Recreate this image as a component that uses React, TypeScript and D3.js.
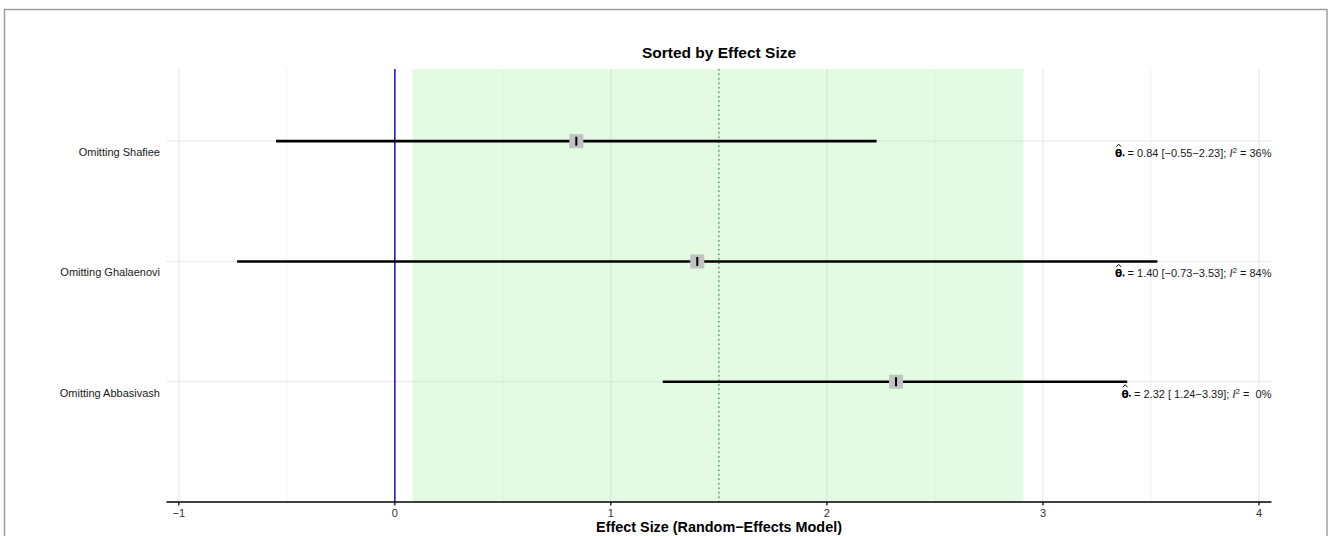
import React, { useLayoutEffect, useRef, useState } from "react";
import * as d3 from "d3";

// Leave-one-out meta-analysis results
const studies = ["Omitting Shafiee", "Omitting Ghalaenovi", "Omitting Abbasivash"];
const estimates = [0.84, 1.40, 2.32];
const lowerCI = [-0.55, -0.73, 1.24];
const upperCI = [2.23, 3.53, 3.39];
const i2Values = [36, 84, 0];

// Pooled random-effects estimate and its interval
const pooled = 1.5;
const pooledLower = 0.083;
const pooledUpper = 2.91;

const xTicks = [-1, 0, 1, 2, 3, 4];
const xMinor = [-0.5, 0.5, 1.5, 2.5, 3.5];

const W = 1328;
const H = 536;
const left = 166.5;
const right = 1271.5;
const top = 69;
const bottom = 502;

const NBSP = "\u00A0";
const fmt = d3.format(".2f");
const fmtCI = (v: number) => (v < 0 ? "\u2212" + fmt(-v) : NBSP + fmt(v));

export default function App() {
  const x = d3.scaleLinear().domain([-1.057, 4.058]).range([left, right]);
  const y = d3.scaleLinear().domain([-0.6, 3]).range([top, bottom]);
  const font = "Liberation Sans, Arial, sans-serif";

  // measured widths of the annotation texts, used to place the theta-hat symbol
  const annRefs = useRef<(SVGTextElement | null)[]>([]);
  const [annWidths, setAnnWidths] = useState<number[]>(studies.map(() => 150));
  useLayoutEffect(() => {
    const w = annRefs.current.map((el) => (el ? el.getComputedTextLength() : 150));
    setAnnWidths(w);
  }, []);

  return (
    <svg
      width={W}
      height={H}
      style={{ position: "fixed", left: 0, top: 0, background: "#fff" }}
      fontFamily={font}
    >
      <rect x={4.5} y={9.5} width={1322.5} height={600} fill="none" stroke="#9a9a9a" strokeWidth={1.4} />

      {/* grid */}
      {xMinor.map((t) => (
        <line key={"mn" + t} x1={x(t)} x2={x(t)} y1={top} y2={bottom} stroke="#f1f1f1" strokeWidth={1} />
      ))}
      {xTicks.map((t) => (
        <line key={"mj" + t} x1={x(t)} x2={x(t)} y1={top} y2={bottom} stroke="#e8e8e8" strokeWidth={1.2} />
      ))}
      {studies.map((s, i) => (
        <line key={"hg" + s} x1={left} x2={right} y1={y(i)} y2={y(i)} stroke="#ebebeb" strokeWidth={1.2} />
      ))}

      {/* pooled interval band */}
      <rect
        x={x(pooledLower)}
        y={top}
        width={x(pooledUpper) - x(pooledLower)}
        height={bottom - top}
        fill="rgb(144,238,144)"
        fillOpacity={0.25}
      />
      <line x1={x(pooled)} x2={x(pooled)} y1={top} y2={bottom} stroke="#3f9a3f" strokeWidth={1.3} strokeDasharray="1.5,3" />
      <line x1={x(0)} x2={x(0)} y1={top} y2={bottom} stroke="#1010d0" strokeWidth={1.5} />

      {/* intervals and point estimates */}
      {studies.map((s, i) => (
        <g key={"pt" + s}>
          <line x1={x(lowerCI[i])} x2={x(upperCI[i])} y1={y(i)} y2={y(i)} stroke="#000" strokeWidth={2.6} />
          <rect x={x(estimates[i]) - 7} y={y(i) - 7} width={14} height={14} fill="#c2c2c2" />
          <line x1={x(estimates[i])} x2={x(estimates[i])} y1={y(i) - 4.5} y2={y(i) + 4.5} stroke="#000" strokeWidth={2} />
        </g>
      ))}

      {/* study labels */}
      {studies.map((s, i) => (
        <text key={"lb" + s} x={160} y={y(i) + 15} textAnchor="end" fontSize={11} fill="#1a1a1a">
          {s}
        </text>
      ))}

      {/* estimate annotations */}
      {studies.map((s, i) => {
        const base = y(i) + 16;
        const start = right - annWidths[i];
        const thetaRight = start - 2.2;
        const cx = thetaRight - 3.6;
        return (
          <g key={"an" + s}>
            <text
              ref={(el) => {
                annRefs.current[i] = el;
              }}
              x={right}
              y={base}
              textAnchor="end"
              fontSize={11}
              fill="#1a1a1a"
            >
              <tspan>{`${NBSP}= ${fmt(estimates[i])} [${fmtCI(lowerCI[i])}\u2212${fmt(upperCI[i])}]; `}</tspan>
              <tspan fontStyle="italic">I</tspan>
              <tspan fontSize={8} dy={-4}>2</tspan>
              <tspan dy={4}>{` = ${i2Values[i] < 10 ? NBSP : ""}${i2Values[i]}%`}</tspan>
            </text>
            <text
              x={thetaRight}
              y={base}
              textAnchor="end"
              fontSize={10.5}
              fontWeight="bold"
              fontFamily="DejaVu Sans, sans-serif"
              fill="#000"
            >
              {"\u03B8"}
            </text>
            <path
              d={`M${cx - 2.4},${base - 10.5}L${cx},${base - 13}L${cx + 2.4},${base - 10.5}`}
              fill="none"
              stroke="#000"
              strokeWidth={1}
            />
            <circle cx={thetaRight + 1.2} cy={base - 2} r={1} fill="#000" />
          </g>
        );
      })}

      {/* x axis */}
      <line x1={left} x2={right} y1={bottom} y2={bottom} stroke="#000" strokeWidth={1.4} />
      {xTicks.map((t) => (
        <g key={"tk" + t}>
          <line x1={x(t)} x2={x(t)} y1={bottom} y2={bottom + 3.5} stroke="#000" strokeWidth={1.2} />
          <text x={x(t)} y={bottom + 15} textAnchor="middle" fontSize={11} fill="#333">
            {t < 0 ? "\u2212" + Math.abs(t) : String(t)}
          </text>
        </g>
      ))}

      <text x={(left + right) / 2} y={58} textAnchor="middle" fontSize={15.5} fontWeight="bold" fill="#000">
        Sorted by Effect Size
      </text>
      <text x={(left + right) / 2} y={532} textAnchor="middle" fontSize={14.4} fontWeight="bold" fill="#000">
        Effect Size (Random{"\u2212"}Effects Model)
      </text>
    </svg>
  );
}
